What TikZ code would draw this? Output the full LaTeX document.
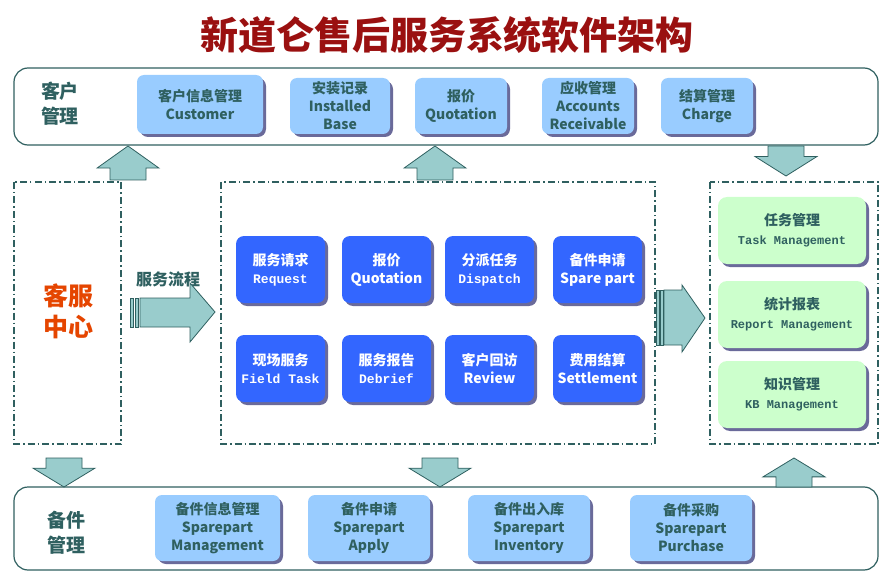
\documentclass[tikz,border=0pt]{standalone}
\usepackage{fontspec}
\setmainfont{Liberation Sans}
\newfontfamily\cjk{Noto Sans CJK SC}
\newfontfamily\mono{Liberation Mono}
\begin{document}
\begin{tikzpicture}[x=1pt,y=-1pt,
  frame/.style={draw=tealD,line width=1.2pt},
  dd/.style={frame,dash pattern=on 7pt off 3pt on 1.5pt off 3pt},
  lb/.style={fill=lblue,rounded corners=7pt},
  bb/.style={fill=bblue,rounded corners=8pt},
  gb/.style={fill=lgreen,rounded corners=9pt},
  shd/.style={fill=shadowc,rounded corners=8pt},
  arr/.style={fill=arrf,draw=tealD,line width=0.8pt},
  tt/.style={text=tealD,font=\cjk\bfseries,align=center},
  wt/.style={text=white,font=\cjk\bfseries,align=center}]
\definecolor{tealD}{HTML}{2F6060}
\definecolor{lblue}{HTML}{99CCFF}
\definecolor{bblue}{HTML}{3366FF}
\definecolor{lgreen}{HTML}{CCFFCC}
\definecolor{shadowc}{HTML}{6A6A9A}
\definecolor{arrf}{HTML}{99CCCC}
\definecolor{titlec}{HTML}{9A1010}
\useasboundingbox (0,0) rectangle (895,575);
\node[text=titlec,font=\cjk\bfseries\fontsize{38}{42}\selectfont] (title) at (447,35) {新道仑售后服务系统软件架构};
% top frame
\draw[frame,rounded corners=14pt] (14,68) rectangle (878,145);
\node[tt,font=\cjk\bfseries\fontsize{19}{25}\selectfont] (kh) at (60,104) {客户\\管理};
\newcommand\lbox[6]{\fill[shd] (#1+3,#2+3) rectangle (#3+3,#4+3);
  \fill[lb] (#1,#2) rectangle (#3,#4);
  \node[tt,font=\cjk\bfseries\fontsize{14}{18}\selectfont] (#5) at ({(#1+#3)/2},{(#2+#4)/2}) {#6};}
\lbox{137}{75}{263}{134}{c1}{客户信息管理\\Customer}
\lbox{290}{78}{390}{134}{c2}{安装记录\\Installed\\Base}
\lbox{415}{78}{507}{134}{c3}{报价\\Quotation}
\lbox{542}{78}{634}{134}{c4}{应收管理\\Accounts\\Receivable}
\lbox{661}{78}{753}{134}{c5}{结算管理\\Charge}
% bottom frame
\draw[frame,rounded corners=14pt] (14,487) rectangle (878,570);
\node[tt,font=\cjk\bfseries\fontsize{19}{25}\selectfont] (bj) at (66,533) {备件\\管理};
\lbox{155}{495}{280}{561}{s1}{备件信息管理\\Sparepart\\Management}
\lbox{308}{495}{430}{561}{s2}{备件申请\\Sparepart\\Apply}
\lbox{468}{495}{590}{561}{s3}{备件出入库\\Sparepart\\Inventory}
\lbox{630}{495}{752}{561}{s4}{备件采购\\Sparepart\\Purchase}
% frames
\draw[dd] (14,182) rectangle (121,444);
\draw[dd] (221,182) rectangle (655,444);
\draw[dd] (710,182) rectangle (878,444);
\node[text=orange!60!red!90!black,font=\cjk\bfseries\fontsize{25}{31}\selectfont,align=center] (kf) at (68,311) {客服\\中心};
\node[tt,font=\cjk\bfseries\fontsize{16}{20}\selectfont] (lc) at (168,279) {服务流程};
% blue boxes
\newcommand\bbox[5]{\fill[shd] (#1+3,#2+3) rectangle (#1+92,#2+70);
  \fill[bb] (#1,#2) rectangle (#1+89,#2+67);
  \node[wt,font=\cjk\bfseries\fontsize{14}{18}\selectfont] (#3) at (#1+44.5,#2+33.5) {#4\\#5};}
\bbox{236}{236}{b1}{服务请求}{{\mono\bfseries\fontsize{13}{18}\selectfont Request}}
\bbox{342}{236}{b2}{报价}{Quotation}
\bbox{445}{236}{b3}{分派任务}{{\mono\bfseries\fontsize{13}{18}\selectfont Dispatch}}
\bbox{553}{236}{b4}{备件申请}{Spare part}
\bbox{236}{335}{b5}{现场服务}{{\mono\bfseries\fontsize{13}{18}\selectfont Field Task}}
\bbox{342}{335}{b6}{服务报告}{{\mono\bfseries\fontsize{13}{18}\selectfont Debrief}}
\bbox{445}{335}{b7}{客户回访}{Review}
\bbox{553}{335}{b8}{费用结算}{Settlement}
% green boxes
\newcommand\gbox[5]{\fill[shd,rounded corners=9pt] (721,#1+3) rectangle (869,#2+3);
  \fill[gb] (718,#1) rectangle (866,#2);
  \node[tt,font=\cjk\bfseries\fontsize{14}{19}\selectfont] (#3) at (792,{(#1+#2)/2}) {#4\\{\mono\bfseries\fontsize{12}{16}\selectfont #5}};}
\gbox{197}{264}{g1}{任务管理}{Task Management}
\gbox{281}{348}{g2}{统计报表}{Report Management}
\gbox{361}{428}{g3}{知识管理}{KB Management}
% vertical block arrows: (cx, tail y, head y)
\newcommand\varr[3]{\draw[arr] (#1-18,#2) -- (#1-18,{#2+(#3-#2)*0.35}) -- (#1-31,{#2+(#3-#2)*0.35}) -- (#1,#3) -- (#1+31,{#2+(#3-#2)*0.35}) -- (#1+18,{#2+(#3-#2)*0.35}) -- (#1+18,#2) -- cycle;}
\varr{128}{180}{146}
\varr{435}{180}{146}
\varr{786}{146}{176}
\varr{64}{458}{487}
\varr{440}{458}{487}
\varr{794}{487}{458}
% horizontal arrows
\draw[arr] (140,298) -- (190,298) -- (190,283) -- (215,312) -- (190,342) -- (190,327) -- (140,327) -- cycle;
\draw[arr] (130,298) rectangle (133,327);
\draw[arr] (135,298) rectangle (138,327);
\draw[arr] (664,290) -- (682,290) -- (682,285) -- (705,318) -- (682,352) -- (682,345) -- (664,345) -- cycle;
\draw[arr] (656,290) rectangle (659,345);
\draw[arr] (660,290) rectangle (663,345);
\end{tikzpicture}
\end{document}
